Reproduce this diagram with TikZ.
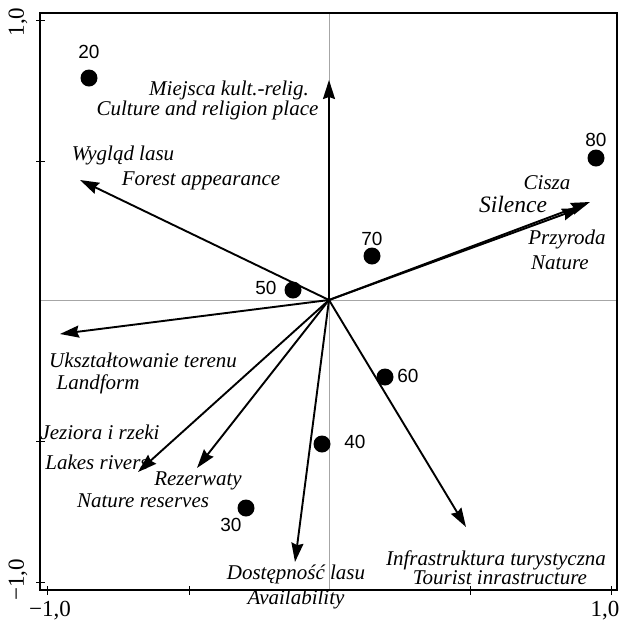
\documentclass[tikz,border=0pt]{standalone}
\usepackage{fontspec}
\setmainfont{Liberation Serif}
\newfontfamily\numfont{Liberation Sans}
\usetikzlibrary{arrows.meta}
\begin{document}
\begin{tikzpicture}[x=1pt,y=-1pt,
 lab/.style={font=\fontsize{21}{22}\selectfont\itshape, inner sep=0pt, anchor=mid},
 biglab/.style={font=\fontsize{23.5}{24}\selectfont\itshape, inner sep=0pt, anchor=mid},
 num/.style={font=\numfont\fontsize{19}{19}\selectfont, inner sep=0pt},
 ticklab/.style={font=\fontsize{23}{23}\selectfont, inner sep=0pt},
 dot/.style={circle, fill=black, minimum size=17pt, inner sep=0pt},
 vec/.style={line width=1.9pt, -{Stealth[length=19pt,width=12pt,inset=2pt]}},
 tickmark/.style={line width=1pt},
]
\useasboundingbox (0,0) rectangle (625,625);
% frame and axes
\draw[gray!70, line width=0.6pt] (329,13) -- (329,590);
\draw[gray!70, line width=0.6pt] (40,300) -- (617,300);
\draw[line width=1.3pt] (40,13) rectangle (617,590);
\foreach \yy in {20,161,441,582} \draw[tickmark] (36,\yy) -- (45,\yy);
\foreach \xx in {47,189,470,611} \draw[tickmark] (\xx,586) -- (\xx,595);
\node[ticklab, rotate=90] (ty1) at (18,22) {1,0};
\node[ticklab, rotate=90] (ty2) at (18,580) {−1,0};
\node[ticklab] (tx1) at (50,611) {−1,0};
\node[ticklab] (tx2) at (605,611) {1,0};
% labels
\node[lab] (lm1) at (229,93) {Miejsca kult.-relig.};
\node[lab] (lm2) at (207.5,113) {Culture and religion place};
\node[lab] (lw1) at (123,158) {Wygląd lasu};
\node[lab] (lw2) at (201,183) {Forest appearance};
\node[lab] (lc1) at (547,187) {Cisza};
\node[biglab] (lc2) at (513,210) {Silence};
\node[lab] (lp1) at (567,242) {Przyroda};
\node[lab] (lp2) at (560,267) {Nature};
\node[lab] (lu1) at (143,365) {Ukształtowanie terenu};
\node[lab] (lu2) at (98,387) {Landform};
\node[lab] (lj1) at (100,437) {Jeziora i rzeki};
\node[lab] (lj2) at (97,467) {Lakes rivers};
\node[lab] (lr1) at (198,483) {Rezerwaty};
\node[lab] (lr2) at (143,505) {Nature reserves};
\node[lab] (ld1) at (296,577) {Dostępność lasu};
\node[lab] (ld2) at (296,602) {Availability};
\node[lab] (li1) at (496,563) {Infrastruktura turystyczna};
\node[lab] (li2) at (500,582) {Tourist inrastructure};
% vectors
\coordinate (o) at (329,300);
\coordinate (vm) at (329,80);
\coordinate (vw) at (80,180);
\coordinate (vc) at (590,202);
\coordinate (vp) at (581,208);
\coordinate (vu) at (60,334);
\coordinate (vj) at (138,472);
\coordinate (vr) at (197,468);
\coordinate (vd) at (295,562);
\coordinate (vi) at (466,527);
\foreach \t in {vm,vw,vc,vp,vu,vj,vr,vd,vi} \draw[vec] (o) -- (\t);
% sites
\node[dot] (d20) at (89,78) {};
\node[dot] (d80) at (596,158) {};
\node[dot] (d70) at (372,256) {};
\node[dot] (d50) at (293,290) {};
\node[dot] (d60) at (385,377) {};
\node[dot] (d40) at (322,444) {};
\node[dot] (d30) at (246,508) {};
\node[num] (n20) at (89,52) {20};
\node[num] (n80) at (596,140) {80};
\node[num] (n70) at (372,239) {70};
\node[num] (n50) at (266,288) {50};
\node[num] (n60) at (408,376) {60};
\node[num] (n40) at (355,442) {40};
\node[num] (n30) at (231,525) {30};
\end{tikzpicture}
\end{document}
